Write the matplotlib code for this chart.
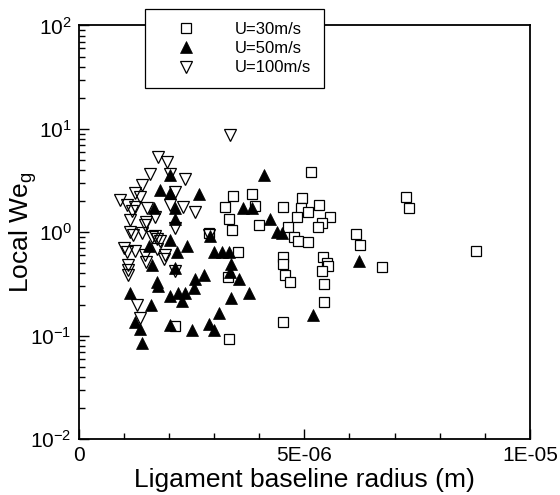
import numpy as np
import matplotlib
matplotlib.use('Agg')
import matplotlib.pyplot as plt
from matplotlib.ticker import FixedLocator, LogLocator, FuncFormatter, NullFormatter

plt.rcParams['font.family'] = ['Liberation Sans', 'DejaVu Sans']
plt.rcParams['mathtext.fontset'] = 'custom'
plt.rcParams['mathtext.rm'] = 'Liberation Sans'

# radius in micrometres, local Weber number
r_30 = [5.14, 3.43, 3.83, 3.24, 3.91, 3.33, 3.40, 3.99, 4.53, 4.94, 4.93, 5.08,
        5.33, 5.57, 5.40, 5.30, 4.84, 4.63, 4.77, 4.85, 5.09, 6.15, 6.24, 2.89,
        3.54, 3.30, 4.52, 4.53, 4.57, 4.68, 5.41, 5.51, 5.52, 5.39, 5.44, 5.44,
        4.52, 3.33, 6.73, 7.25, 7.32, 8.80, 2.13]
we_30 = [3.85, 2.24, 2.35, 1.75, 1.80, 1.35, 1.05, 1.18, 1.77, 2.16, 1.70, 1.58,
         1.84, 1.40, 1.24, 1.13, 1.42, 1.12, 0.89, 0.83, 0.81, 0.96, 0.75, 0.98,
         0.64, 0.37, 0.58, 0.49, 0.39, 0.33, 0.58, 0.50, 0.47, 0.42, 0.316, 0.21,
         0.136, 0.092, 0.46, 2.18, 1.71, 0.66, 0.123]

r_50 = [4.11, 2.02, 1.80, 2.02, 2.67, 1.67, 2.13, 2.13, 3.65, 3.83, 4.24, 4.39,
        4.50, 2.92, 2.02, 1.56, 2.39, 2.17, 3.00, 3.17, 3.32, 3.37, 3.35, 3.55,
        1.63, 2.13, 1.73, 1.76, 2.78, 2.58, 2.56, 1.14, 2.02, 2.21, 2.36, 2.30,
        3.78, 3.38, 1.60, 3.11, 5.20, 6.21, 1.25, 1.36, 2.02, 2.50, 2.89, 3.00,
        1.40]
we_50 = [3.58, 3.58, 2.56, 2.38, 2.33, 1.71, 1.71, 1.34, 1.71, 1.71, 1.35, 1.01,
         0.99, 0.91, 0.84, 0.74, 0.73, 0.65, 0.65, 0.64, 0.64, 0.49, 0.41, 0.35,
         0.48, 0.45, 0.33, 0.30, 0.39, 0.35, 0.29, 0.26, 0.24, 0.26, 0.26, 0.216,
         0.257, 0.23, 0.198, 0.166, 0.16, 0.53, 0.136, 0.117, 0.127, 0.113, 0.13, 0.113,
         0.085]

r_100 = [3.35, 1.75, 1.95, 1.58, 2.02, 1.40, 2.36, 2.13, 1.25, 0.92, 1.06, 1.25,
         1.51, 2.02, 2.32, 2.58, 1.69, 1.14, 2.13, 1.47, 1.14, 1.40, 1.73, 1.80,
         1.06, 1.25, 1.47, 1.91, 1.10, 1.10, 2.13, 1.29, 1.36, 2.89, 1.10, 1.20,
         1.50, 1.70, 1.62, 1.36, 1.18, 1.74, 1.89, 1.50, 1.00]
we_100 = [8.7, 5.4, 4.8, 3.7, 3.7, 2.87, 3.3, 2.47, 2.38, 2.05, 1.84, 1.77,
          1.73, 1.84, 1.77, 1.58, 1.42, 1.31, 1.09, 1.18, 1.01, 0.99, 0.87, 0.83,
          0.65, 0.66, 0.60, 0.60, 0.48, 0.43, 0.42, 0.20, 0.147, 0.94, 0.39, 0.95,
          1.25, 0.92, 0.90, 2.2, 1.6, 0.69, 0.55, 0.52, 0.70]

x_ticks = [0, 5e-6, 1e-5]
x_tick_labels = ['0', '5E-06', '1E-05']

fig = plt.figure(figsize=(5.6, 4.95), dpi=100)
ax = fig.add_axes([0.1405, 0.1131, 0.806, 0.8354])

ax.plot(np.array(r_30) * 1e-6, we_30, ls='none', marker='s', ms=7.2,
        mfc='white', mec='black', mew=0.9, label='U=30m/s')
ax.plot(np.array(r_50) * 1e-6, we_50, ls='none', marker='^', ms=8.5,
        mfc='black', mec='black', mew=0.5, label='U=50m/s')
ax.plot(np.array(r_100) * 1e-6, we_100, ls='none', marker='v', ms=8.5,
        mfc='none', mec='black', mew=0.9, label='U=100m/s')

ax.set_yscale('log')
ax.set_xlim(0, 1e-5)
ax.set_ylim(1e-2, 1e2)

ax.xaxis.set_major_locator(FixedLocator(x_ticks))
ax.set_xticklabels(x_tick_labels)
ax.xaxis.set_minor_locator(FixedLocator(np.arange(1, 10) * 1e-6))
ax.yaxis.set_major_locator(LogLocator(base=10, numticks=10))
ax.yaxis.set_minor_locator(LogLocator(base=10, subs=np.arange(2, 10), numticks=10))
ax.yaxis.set_major_formatter(FuncFormatter(
    lambda v, p: r'$\mathregular{10^{%d}}$' % int(round(np.log10(v)))))
ax.yaxis.set_minor_formatter(NullFormatter())

ax.tick_params(which='both', direction='in', top=False, right=False,
               labelsize=15, width=1.0)
ax.tick_params(which='major', length=7, pad=5)
ax.tick_params(which='minor', length=4)
for s in ax.spines.values():
    s.set_linewidth(1.3)

ax.set_xlabel('Ligament baseline radius (m)', fontsize=19, labelpad=2)
ax.set_ylabel(r'Local We$_\mathregular{g}$', fontsize=19)
ax.yaxis.set_label_coords(-0.088, 0.5)

leg = fig.legend(loc='upper left', bbox_to_anchor=(145 / 560, 1 - 9 / 495),
                 borderaxespad=0, fontsize=12, frameon=True, fancybox=False,
                 edgecolor='black', framealpha=1, handlelength=3.45,
                 handletextpad=1.2, borderpad=0.75, labelspacing=0.27)
leg.get_frame().set_linewidth(0.9)

fig.savefig('out.png', dpi=100)
